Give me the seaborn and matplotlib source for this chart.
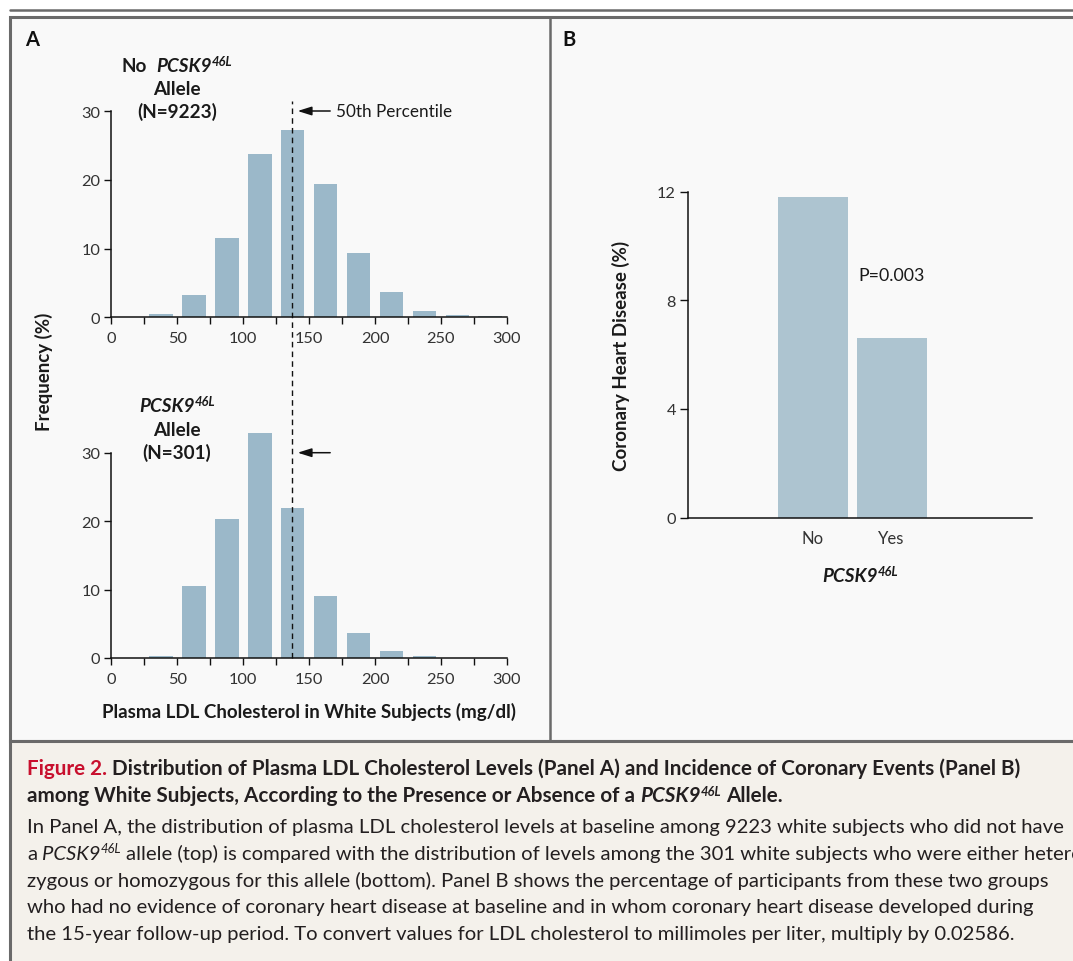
import matplotlib
matplotlib.use("Agg")
import matplotlib.pyplot as plt
import seaborn as sns
import pandas as pd
from matplotlib.patches import Rectangle
from matplotlib.lines import Line2D

# ---------------- data ----------------
ldl_bin_centers = [37.5, 62.5, 87.5, 112.5, 137.5, 162.5, 187.5, 212.5, 237.5, 262.5, 287.5]
freq_no_allele = [0.5, 3.2, 11.6, 23.8, 27.2, 19.4, 9.3, 3.7, 0.9, 0.4, 0.2]
ldl_bin_centers_allele = [37.5, 62.5, 87.5, 112.5, 137.5, 162.5, 187.5, 212.5, 237.5]
freq_allele = [0.3, 10.5, 20.3, 32.9, 21.9, 9.1, 3.65, 1.0, 0.3]
median_ldl = 137
chd_groups = ["No", "Yes"]
chd_pct = [11.8, 6.6]
ldl_ticks = [0, 50, 100, 150, 200, 250, 300]
ldl_minor_ticks = [25, 75, 125, 175, 225, 275]
freq_ticks = [0, 10, 20, 30]
chd_ticks = [0, 4, 8, 12]

# ---------------- style ----------------
sns.set_theme(style="ticks")
FONT = "Lato"
plt.rcParams["font.family"] = [FONT, "DejaVu Sans"]
plt.rcParams["axes.linewidth"] = 1.1

W, H = 1073, 962
fig = plt.figure(figsize=(W / 100, H / 100), dpi=100)
fig.patch.set_facecolor("white")

def fx(x):
    return x / W

def fy(y):
    return 1 - y / H

BAR_A = "#9bb8c9"
BAR_B = "#adc4d0"
FRAME = "#6a6a6a"
TXT = "#1a1a1a"
TICK = "#333333"

# ---------------- frames ----------------
fig.patches.append(Rectangle((fx(10), fy(742)), fx(1100 - 10), (742 - 18) / H,
                             transform=fig.transFigure, facecolor="#f9f9f9",
                             edgecolor=FRAME, linewidth=2.2, zorder=-10))
fig.patches.append(Rectangle((fx(10), fy(990)), fx(1100 - 10), (990 - 742) / H,
                             transform=fig.transFigure, facecolor="#f4f1eb",
                             edgecolor=FRAME, linewidth=2.2, zorder=-9))
fig.lines.append(Line2D([fx(10), fx(1073)], [fy(11), fy(11)], transform=fig.transFigure,
                        color=FRAME, linewidth=1.8, zorder=-8))
fig.lines.append(Line2D([fx(549.5), fx(549.5)], [fy(18), fy(742)], transform=fig.transFigure,
                        color=FRAME, linewidth=1.8, zorder=-8))

# ---------------- axes ----------------
axA1 = fig.add_axes([fx(111.4), fy(318.3), 395.4 / W, (318.3 - 112) / H])
axA2 = fig.add_axes([fx(111.4), fy(659), 395.4 / W, (659 - 453.7) / H])
axB = fig.add_axes([fx(687.7), fy(518.5), 344 / W, (518.5 - 192.5) / H])

df1 = pd.DataFrame({"ldl": ldl_bin_centers, "freq": freq_no_allele})
df2 = pd.DataFrame({"ldl": ldl_bin_centers_allele, "freq": freq_allele})
for ax, df in ((axA1, df1), (axA2, df2)):
    sns.barplot(data=df, x="ldl", y="freq", native_scale=True, width=0.72,
                color=BAR_A, saturation=1, linewidth=0, errorbar=None, ax=ax)
    for p in ax.patches:
        p.set_clip_on(False)
    ax.set_xlim(0, 300)
    ax.set_ylim(0, 30)
    ax.set_xticks(ldl_ticks)
    ax.set_xticks(ldl_minor_ticks, minor=True)
    ax.set_yticks(freq_ticks)
    ax.set_xlabel("")
    ax.set_ylabel("")
    ax.patch.set_visible(False)
    for s in ("top", "right"):
        ax.spines[s].set_visible(False)
    for s in ("left", "bottom"):
        ax.spines[s].set_color("#111111")
    ax.tick_params(axis="both", which="both", direction="out", length=5, width=1.0,
                   color="#111111", labelsize=11.8, labelcolor=TICK)
    ax.tick_params(axis="x", which="both", pad=5)
    ax.tick_params(axis="y", pad=3)
    for lab in ax.get_xticklabels() + ax.get_yticklabels():
        lab.set_family([FONT, "DejaVu Sans"])
    # arrow to 50th percentile
    ax.annotate("", xy=(141.3, 30), xytext=(166, 30), annotation_clip=False,
                arrowprops=dict(arrowstyle="-|>,head_length=0.7,head_width=0.22",
                                color="#111111", lw=1.1, shrinkA=0, shrinkB=0))

axA1.text(170.5, 30, "50th Percentile", ha="left", va="center", fontsize=12.3, color=TXT,
          clip_on=False)

# dashed median line spanning both histograms
axA2.axvline(median_ldl, ymin=0, ymax=(659 - 102) / (659 - 453.7), color="#111111",
             linewidth=1.0, dashes=(4, 3), clip_on=False, zorder=10)

# panel B
dfB = pd.DataFrame({"group": chd_groups, "pct": chd_pct})
sns.barplot(data=dfB, x="group", y="pct", width=0.885, color=BAR_B, saturation=1,
            linewidth=0, errorbar=None, ax=axB)
axB.set_xlim(-1.588, 2.777)
axB.set_ylim(0, 12)
axB.set_yticks(chd_ticks)
axB.set_xlabel("")
axB.set_ylabel("")
axB.patch.set_visible(False)
for s in ("top", "right"):
    axB.spines[s].set_visible(False)
for s in ("left", "bottom"):
    axB.spines[s].set_color("#111111")
axB.tick_params(axis="y", direction="out", length=5.5, width=1.0, color="#111111",
                labelsize=11.8, labelcolor=TICK, pad=3)
axB.tick_params(axis="x", length=0, labelsize=12, labelcolor=TICK, pad=9)
axB.text(1, 8.93, "P=0.003", ha="center", va="center", fontsize=12.8, color=TXT)

# ---------------- rich text helper ----------------
renderer = fig.canvas.get_renderer()

def _space_width(kw):
    a = fig.text(0, 0, "n n", **kw)
    b = fig.text(0, 0, "nn", **kw)
    w = a.get_window_extent(renderer).width - b.get_window_extent(renderer).width
    a.remove()
    b.remove()
    return w

def rich(x_px, y_px, pieces, ha="left"):
    items = []
    for s, kw, rise in pieces:
        kw = dict(kw)
        kw.setdefault("family", [FONT, "DejaVu Sans"])
        kw.setdefault("color", TXT)
        lead = len(s) - len(s.lstrip(" "))
        trail = len(s) - len(s.rstrip(" "))
        core = s.strip(" ")
        sw = _space_width(kw) if (lead or trail) else 0
        t = fig.text(0, fy(y_px - rise), core, va="baseline", ha="left", **kw)
        w = t.get_window_extent(renderer).width
        items.append((t, lead * sw, w, trail * sw))
    total = sum(a + b + c for _, a, b, c in items)
    cur = x_px - (total / 2 if ha == "center" else 0)
    for t, a, w, c in items:
        cur += a
        t.set_x(cur / W)
        cur += w + c
    return items

B = dict(fontsize=13.6, weight="bold")
BI = dict(fontsize=13.6, weight="bold", style="italic")
SUP = dict(fontsize=9.3, weight="bold", style="italic")

# panel letters
fig.text(fx(25), fy(46), "A", fontsize=14.5, weight="bold", color="#111111", va="baseline")
fig.text(fx(562), fy(46), "B", fontsize=14.5, weight="bold", color="#111111", va="baseline")

# group labels
rich(177, 72, [("No  ", B, 0), ("PCSK9", BI, 0), ("46L", SUP, 6)], ha="center")
rich(177, 95, [("Allele", B, 0)], ha="center")
rich(177, 117.5, [("(N=9223)", B, 0)], ha="center")
rich(177, 412.5, [("PCSK9", BI, 0), ("46L", SUP, 6)], ha="center")
rich(177, 436.5, [("Allele", B, 0)], ha="center")
rich(177, 459, [("(N=301)", B, 0)], ha="center")

# axis titles
fig.text(fx(44), fy(372), "Frequency (%)", rotation=90, ha="center", va="center",
         fontsize=13.5, weight="bold", color=TXT)
fig.text(fx(309), fy(712), "Plasma LDL Cholesterol in White Subjects (mg/dl)",
         ha="center", va="center", fontsize=13.5, weight="bold", color=TXT)
fig.text(fx(621), fy(356), "Coronary Heart Disease (%)", rotation=90, ha="center",
         va="center", fontsize=13.5, weight="bold", color=TXT)
rich(860, 582, [("PCSK9", BI, 0), ("46L", SUP, 6)], ha="center")

# ---------------- caption ----------------
CT = dict(fontsize=14.9, weight="bold", color="#231f20")
CTI = dict(fontsize=14.9, weight="bold", style="italic", color="#231f20")
CTS = dict(fontsize=9.3, weight="bold", style="italic", color="#231f20")
CB = dict(fontsize=14.6, color="#231f20")
CBI = dict(fontsize=14.6, style="italic", color="#231f20")
CBS = dict(fontsize=9.3, style="italic", color="#231f20")

rich(27, 775, [("Figure 2. ", dict(CT, color="#c8102e"), 0),
               ("Distribution of Plasma LDL Cholesterol Levels (Panel A) and Incidence of Coronary Events (Panel B)", CT, 0)])
rich(27, 802.5, [("among White Subjects, According to the Presence or Absence of a ", CT, 0),
                 ("PCSK9", CTI, 0), ("46L", CTS, 6.5), (" Allele.", CT, 0)])
rich(27, 833, [("In Panel A, the distribution of plasma LDL cholesterol levels at baseline among 9223 white subjects who did not have", CB, 0)])
rich(27, 860, [("a ", CB, 0), ("PCSK9", CBI, 0), ("46L", CBS, 6.5),
               (" allele (top) is compared with the distribution of levels among the 301 white subjects who were either hetero-", CB, 0)])
rich(27, 886.7, [("zygous or homozygous for this allele (bottom). Panel B shows the percentage of participants from these two groups", CB, 0)])
rich(27, 913.3, [("who had no evidence of coronary heart disease at baseline and in whom coronary heart disease developed during", CB, 0)])
rich(27, 940, [("the 15-year follow-up period. To convert values for LDL cholesterol to millimoles per liter, multiply by 0.02586.", CB, 0)])

fig.savefig("out.png", dpi=100)
